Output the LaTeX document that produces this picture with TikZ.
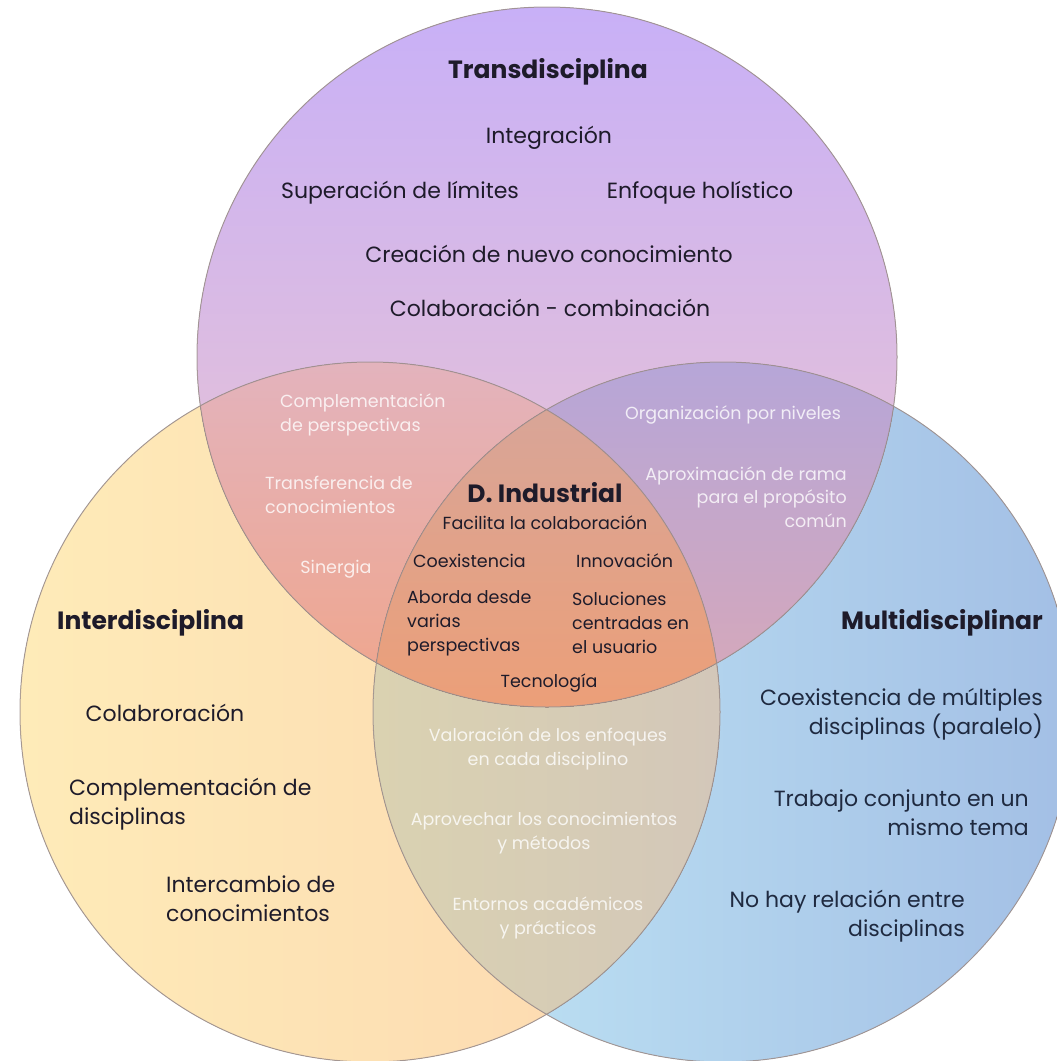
\documentclass[tikz,border=0pt]{standalone}
\usepackage{fontspec}
\setmainfont{Poppins}
\definecolor{topA}{HTML}{C8B0F7}
\definecolor{topB}{HTML}{F0C8CC}
\definecolor{leftA}{HTML}{FEEBB8}
\definecolor{leftB}{HTML}{FCD7B0}
\definecolor{rightA}{HTML}{C0E6F5}
\definecolor{rightB}{HTML}{A3BFE5}
\definecolor{tlA}{HTML}{E3B3BD}
\definecolor{tlB}{HTML}{F0A58A}
\definecolor{trA}{HTML}{B6A6D8}
\definecolor{trB}{HTML}{D8A8B8}
\definecolor{triA}{HTML}{D8A598}
\definecolor{triB}{HTML}{EC9F78}
\definecolor{lrA}{HTML}{DAD2B1}
\definecolor{lrB}{HTML}{D3C7B9}
\definecolor{edge}{HTML}{A09290}
\definecolor{ink}{HTML}{1E1B2A}
\definecolor{navy}{HTML}{1F2A40}
\begin{document}
\begin{tikzpicture}[x=1pt,y=-1pt,
  txt/.style={inner sep=0pt,text=ink,font=\fontsize{22}{29}\selectfont},
  mid/.style={inner sep=0pt,text=ink,font=\fontsize{17.5}{24}\selectfont},
  wht/.style={inner sep=0pt,text=white,text opacity=0.8,font=\fontsize{17.5}{23.5}\selectfont},
  ttl/.style={inner sep=0pt,text=ink,font=\fontsize{25}{30}\selectfont\bfseries},
  rtxt/.style={txt,text=navy,align=right,anchor=east},
  ring/.style={draw=edge,line width=1pt,draw opacity=0.85}]
\useasboundingbox (0,0) rectangle (1057,1061);
\fill[white] (0,0) rectangle (1057,1061);
\clip (0,0) rectangle (1057,1061);
\coordinate (T) at (547,357);
\coordinate (L) at (370,712);
\coordinate (R) at (723,712);
\def\rr{350pt}
% single circles
\fill[left color=rightA,right color=rightB] (R) circle[radius=\rr];
\fill[left color=leftA,right color=leftB] (L) circle[radius=\rr];
\fill[top color=topA,bottom color=topB] (T) circle[radius=\rr];
% left & right lens
\begin{scope}
\clip (L) circle[radius=\rr];
\clip (R) circle[radius=\rr];
\fill[left color=lrA,right color=lrB] (373,360) rectangle (720,1061);
\end{scope}
% top & left
\begin{scope}
\clip (T) circle[radius=\rr];
\clip (L) circle[radius=\rr];
\fill[top color=tlA,bottom color=tlB] (190,360) rectangle (720,710);
\end{scope}
% top & right
\begin{scope}
\clip (T) circle[radius=\rr];
\clip (R) circle[radius=\rr];
\fill[top color=trA,bottom color=trB] (370,360) rectangle (900,710);
\end{scope}
% triple
\begin{scope}
\clip (T) circle[radius=\rr];
\clip (L) circle[radius=\rr];
\clip (R) circle[radius=\rr];
\fill[top color=triA,bottom color=triB] (370,405) rectangle (720,710);
\end{scope}
\draw[ring] (T) circle[radius=\rr];
\draw[ring] (L) circle[radius=\rr];
\draw[ring] (R) circle[radius=\rr];
% Transdisciplina
\node[ttl] (tt) at (548,72) {Transdisciplina};
\node[txt] (t1) at (549,138) {Integración};
\node[txt] (t2) at (400,193) {Superación de límites};
\node[txt] (t3) at (700,193) {Enfoque holístico};
\node[txt] (t4) at (549,254) {Creación de nuevo conocimiento};
\node[txt] (t5) at (550,308) {Colaboración - combinación};
% top-left
\node[wht,anchor=west,align=left] (tl1) at (280,415) {Complementación\\de perspectivas};
\node[wht,anchor=west,align=left] (tl2) at (265,495) {Transferencia de\\conocimientos};
\node[wht] (tl3) at (336,569) {Sinergia};
% top-right
\node[wht] (tr1) at (733,415) {Organización por niveles};
\node[wht,anchor=east,align=right] (tr2) at (847,497) {Aproximación de rama\\para el propósito\\común};
% centre
\node[ttl] (di) at (545,493) {D. Industrial};
\node[mid] (c1) at (545,523) {Facilita la colaboración};
\node[mid,anchor=west] (c2) at (413,561) {Coexistencia};
\node[mid,anchor=west] (c3) at (576,561) {Innovación};
\node[mid,anchor=west,align=left] (c4) at (407,623) {Aborda desde\\varias\\perspectivas};
\node[mid,anchor=west,align=left] (c5) at (572,623) {Soluciones\\centradas en\\el usuario};
\node[mid] (c6) at (549,683) {Tecnología};
% left-right
\node[wht,align=center] (lr1) at (548,749) {Valoración de los enfoques\\en cada disciplino};
\node[wht,align=center] (lr2) at (544,833) {Aprovechar los conocimientos\\y métodos};
\node[wht,align=center] (lr3) at (548,918) {Entornos académicos\\y prácticos};
% Interdisciplina
\node[ttl,anchor=west] (it) at (57,623) {Interdisciplina};
\node[txt] (i1) at (165,713) {Colabroración};
\node[txt,anchor=west,align=left] (i2) at (69,804) {Complementación de\\disciplinas};
\node[txt,anchor=west,align=left] (i3) at (166,899) {Intercambio de\\conocimientos};
% Multidisciplinar
\node[ttl,anchor=east] (mt) at (1043,623) {Multidisciplinar};
\node[rtxt] (m1) at (1043,714) {Coexistencia de múltiples\\disciplinas (paralelo)};
\node[rtxt] (m2) at (1029,813) {Trabajo conjunto en un\\mismo tema};
\node[rtxt] (m3) at (965,916) {No hay relación entre\\disciplinas};
\end{tikzpicture}
\end{document}
